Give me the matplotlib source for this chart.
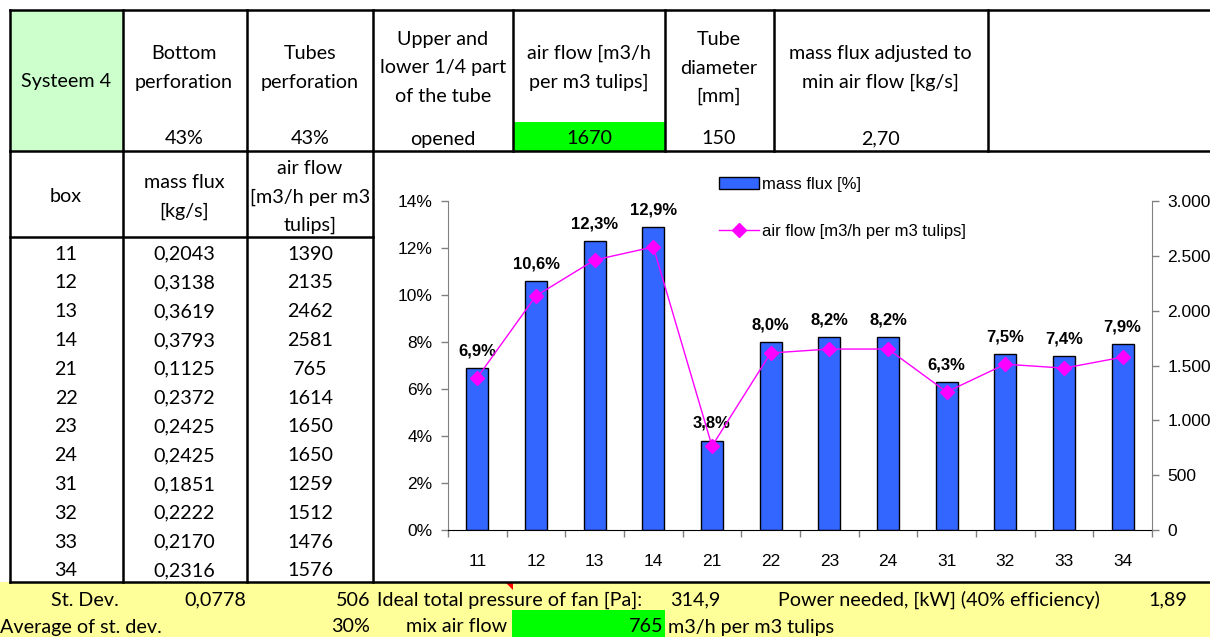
import matplotlib.pyplot as plt
from matplotlib.patches import Rectangle, Polygon
from matplotlib.ticker import FuncFormatter, FixedLocator

boxes = ["11", "12", "13", "14", "21", "22", "23", "24", "31", "32", "33", "34"]
mass_flux = [0.2043, 0.3138, 0.3619, 0.3793, 0.1125, 0.2372, 0.2425, 0.2425,
             0.1851, 0.2222, 0.2170, 0.2316]
air_flow = [1390, 2135, 2462, 2581, 765, 1614, 1650, 1650, 1259, 1512, 1476, 1576]
mass_share = [6.9, 10.6, 12.3, 12.9, 3.8, 8.0, 8.2, 8.2, 6.3, 7.5, 7.4, 7.9]

header_labels = ["Bottom\nperforation", "Tubes\nperforation",
                 "Upper and\nlower 1/4 part\nof the tube",
                 "air flow [m3/h\nper m3 tulips]", "Tube\ndiameter\n[mm]",
                 "mass flux adjusted to\nmin air flow [kg/s]"]
header_values = ["43%", "43%", "opened", "1670", "150", "2,70"]

W, H = 1210, 637
CELL_FONT = ["Lato", "DejaVu Sans"]
CHART_FONT = ["Liberation Sans", "DejaVu Sans"]

fig = plt.figure(figsize=(W / 100, H / 100), dpi=100)
bg = fig.add_axes([0, 0, 1, 1])
bg.set_xlim(0, W)
bg.set_ylim(H, 0)
bg.axis("off")


def cell(x, y, s, ha="center", size=14.2, step=28.5):
    lines = s.split("\n")
    y0 = y - step * (len(lines) - 1) / 2
    for k, ln in enumerate(lines):
        bg.text(x, y0 + k * step, ln, ha=ha, va="center", fontsize=size,
                family=CELL_FONT)


# fills
bg.add_patch(Rectangle((10, 10), 113, 141, color="#CCFFCC", lw=0))
bg.add_patch(Rectangle((513, 122), 152, 29, color="#00FF00", lw=0))
bg.add_patch(Rectangle((0, 582), W, 55, color="#FFFF99", lw=0))
bg.add_patch(Rectangle((512, 610), 153, 27, color="#00FF00", lw=0))
bg.add_patch(Polygon([(506, 583), (513, 583), (513, 590)], color="red", lw=0))

# grid lines
lw = 1.8
for x in [10, 123, 247, 373, 513, 665, 774, 988]:
    bg.plot([x, x], [10, 151], color="black", lw=lw)
for x in [10, 123, 247, 373]:
    bg.plot([x, x], [151, 582], color="black", lw=lw)
bg.plot([10, W], [10, 10], color="black", lw=lw)
bg.plot([10, W], [151, 151], color="black", lw=lw)
bg.plot([10, 373], [237, 237], color="black", lw=lw)
bg.plot([10, W], [582, 582], color="black", lw=lw)

# header row
cell(66, 82, "Systeem 4")
centers = [184, 310, 443, 589, 719, 880]
for cx, lab, val in zip(centers, header_labels, header_values):
    cell(cx, 68, lab)
    cell(cx, 139, val)

# table body
cell(66, 197, "box")
cell(184, 197, "mass flux\n[kg/s]")
cell(310, 197, "air flow\n[m3/h per m3\ntulips]")
for i, (b, m, a) in enumerate(zip(boxes, mass_flux, air_flow)):
    y = 254 + 28.8 * i
    cell(66, y, b)
    cell(184, y, f"{m:.4f}".replace(".", ","))
    cell(310, y, str(a))

# bottom rows
cell(85, 600, "St. Dev.")
cell(215, 600, "0,0778")
cell(370, 600, "506", ha="right")
cell(377, 600, "Ideal total pressure of fan [Pa]:", ha="left")
cell(670, 600, "314,9", ha="left")
cell(778, 600, "Power needed, [kW] (40% efficiency)", ha="left")
cell(1148, 600, "1,89", ha="left")
cell(0, 627, "Average of st. dev.", ha="left")
cell(370, 627, "30%", ha="right")
cell(406, 627, "mix air flow", ha="left")
cell(663, 627, "765", ha="right")
cell(668, 627, "m3/h per m3 tulips", ha="left")

# chart
ax = fig.add_axes([448 / W, 1 - 530 / H, 704 / W, 329 / H])
ax.patch.set_alpha(0)
x = list(range(len(boxes)))
bars = ax.bar(x, [v / 100 for v in mass_share], width=0.375, color="#3366FF",
              edgecolor="black", lw=1, label="mass flux [%]", zorder=2)
for xi, v in zip(x, mass_share):
    ax.annotate(f"{v:.1f}%".replace(".", ","), (xi, v / 100), xytext=(0, 7),
                textcoords="offset points", ha="center", va="bottom",
                fontsize=12, fontweight="bold", family=CHART_FONT, zorder=5)
ax.set_xlim(-0.5, len(boxes) - 0.5)
ax.set_ylim(0, 0.14)
ax.set_yticks([0, 0.02, 0.04, 0.06, 0.08, 0.10, 0.12, 0.14])
ax.yaxis.set_major_formatter(FuncFormatter(lambda v, p: f"{v * 100:.0f}%"))
ax.set_xticks(x)
ax.set_xticklabels(boxes)
ax.xaxis.set_minor_locator(FixedLocator([i - 0.5 for i in range(len(boxes) + 1)]))
ax.tick_params(axis="x", which="major", length=0, pad=17, labelsize=12.5)
ax.tick_params(axis="x", which="minor", length=5, width=1, color="#808080")
ax.tick_params(axis="y", length=5, width=1, color="#808080", pad=6, labelsize=12.5)
for t in ax.get_xticklabels() + ax.get_yticklabels():
    t.set_family(CHART_FONT)
ax.spines["top"].set_visible(False)
ax.spines["right"].set_visible(False)
ax.spines["left"].set_color("#808080")
ax.spines["bottom"].set_color("black")

ax2 = ax.twinx()
line, = ax2.plot(x, air_flow, color="#FF00FF", lw=1, marker="D", markersize=7,
                 label="air flow [m3/h per m3 tulips]", zorder=4)
ax2.set_ylim(0, 3000)
ax2.set_yticks([0, 500, 1000, 1500, 2000, 2500, 3000])
ax2.yaxis.set_major_formatter(FuncFormatter(lambda v, p: f"{v:,.0f}".replace(",", ".")))
ax2.tick_params(axis="y", length=5, width=1, color="#808080", pad=6, labelsize=12.5)
for t in ax2.get_yticklabels():
    t.set_family(CHART_FONT)
for s in ["top", "left", "bottom"]:
    ax2.spines[s].set_visible(False)
ax2.spines["right"].set_color("#808080")

fig.legend(handles=[bars, line], loc="upper left",
           bbox_to_anchor=(719 / W, 1 - 177 / H), frameon=False,
           prop={"family": CHART_FONT, "size": 12}, handlelength=2.4,
           handletextpad=0.2, labelspacing=1.9, borderpad=0, borderaxespad=0)

fig.savefig("out.png", dpi=100)
